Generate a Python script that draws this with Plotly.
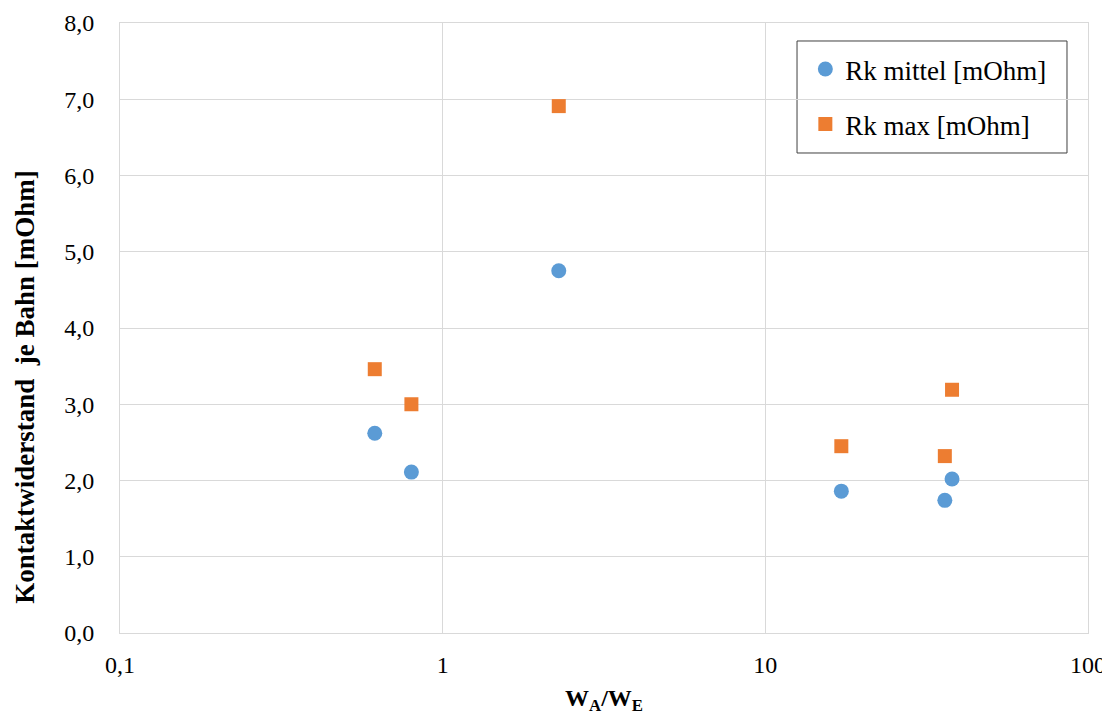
import plotly.graph_objects as go

x_vals = [0.616, 0.80, 2.29, 17.2, 36.0, 37.9]
rk_mittel = [2.62, 2.11, 4.75, 1.86, 1.74, 2.02]
rk_max = [3.46, 3.00, 6.91, 2.45, 2.32, 3.19]
x_tickvals = [0.1, 1, 10, 100]
x_ticktext = ["0,1", "1", "10", "100"]
y_tickvals = [0, 1, 2, 3, 4, 5, 6, 7, 8]

font_family = "Liberation Serif, Times New Roman, serif"

fig = go.Figure()
fig.add_trace(go.Scatter(x=x_vals, y=rk_mittel, mode="markers", name="Rk mittel [mOhm]",
                         legendgroup="a",
                         marker=dict(symbol="circle", size=15, color="#5B9BD5")))
fig.add_trace(go.Scatter(x=x_vals, y=rk_max, mode="markers", name="Rk max [mOhm]",
                         legendgroup="b",
                         marker=dict(symbol="square", size=14, color="#ED7D31")))

fig.update_layout(
    width=1102, height=707,
    margin=dict(l=112, r=22, t=15, b=82, autoexpand=False),
    paper_bgcolor="white", plot_bgcolor="white",
    separators=", ",
    font=dict(family=font_family, size=24, color="#000000"),
    showlegend=True,
    legend=dict(x=0.708, y=0.964, xanchor="left", yanchor="top",
                borderwidth=0, bgcolor="rgba(0,0,0,0)",
                font=dict(family=font_family, size=27),
                traceorder="grouped", tracegroupgap=17),
    shapes=[dict(type="rect", xref="paper", yref="paper",
                 x0=0.6994, x1=0.9783, y0=0.7869, y1=0.9705,
                 line=dict(color="#404040", width=1), fillcolor="white", layer="below")],
    annotations=[dict(text="<b>Kontaktwiderstand  je Bahn [mOhm]</b>",
                      xref="paper", yref="paper", x=-0.0975, y=0.403,
                      xanchor="center", yanchor="middle", textangle=-90,
                      showarrow=False, font=dict(family=font_family, size=27))],
)
fig.update_xaxes(type="log", range=[-1, 2], tickvals=x_tickvals, ticktext=x_ticktext,
                 showgrid=True, gridcolor="#D9D9D9", gridwidth=1,
                 showline=True, linecolor="#D9D9D9", mirror=True,
                 ticks="outside", ticklen=10, tickcolor="rgba(0,0,0,0)",
                 zeroline=False, automargin=False,
                 ticklabeloverflow="allow",
                 tickfont=dict(family=font_family, size=24),
                 title=dict(text="<b>W<sub>A</sub>/W<sub>E</sub></b>",
                            font=dict(family=font_family, size=24), standoff=24))
fig.update_yaxes(range=[0, 8], tickvals=y_tickvals, tickformat=".1f",
                 showgrid=True, gridcolor="#D9D9D9", gridwidth=1,
                 showline=True, linecolor="#D9D9D9", mirror=True,
                 ticks="outside", ticklen=20, tickcolor="rgba(0,0,0,0)",
                 zeroline=False, automargin=False,
                 ticklabeloverflow="allow",
                 tickfont=dict(family=font_family, size=24))

fig.write_html("out.html")
